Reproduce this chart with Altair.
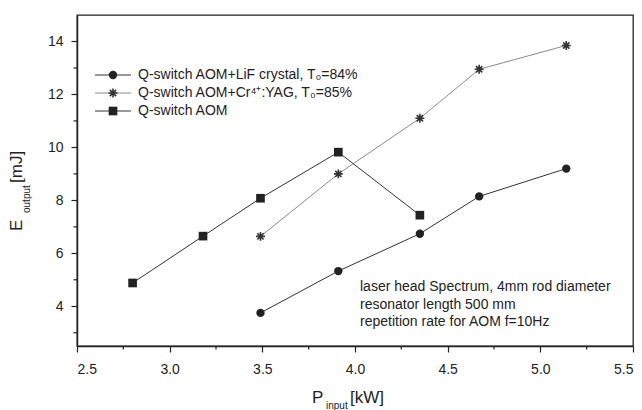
import altair as alt
import pandas as pd

# ---- data ----
series_names = [
    "Q-switch AOM+LiF crystal, T\u2080=84%",
    "Q-switch AOM+Cr\u2074\u207a:YAG, T\u2080=85%",
    "Q-switch AOM",
]
lif_x = [3.49, 3.91, 4.35, 4.67, 5.14]
lif_y = [3.75, 5.33, 6.74, 8.15, 9.20]
cr_x = [3.49, 3.91, 4.35, 4.67, 5.14]
cr_y = [6.64, 9.00, 11.10, 12.95, 13.85]
aom_x = [2.80, 3.18, 3.49, 3.91, 4.35]
aom_y = [4.88, 6.65, 8.08, 9.82, 7.44]

x_ticks = [2.5, 3.0, 3.5, 4.0, 4.5, 5.0, 5.5]
x_minor = [2.75, 3.25, 3.75, 4.25, 4.75, 5.25]
y_ticks = [4, 6, 8, 10, 12, 14]
y_minor = [3, 5, 7, 9, 11, 13]

note_lines = [
    "laser head Spectrum, 4mm rod diameter",
    "resonator length 500 mm",
    "repetition rate for AOM f=10Hz",
]

FONT = "Liberation Sans"
W, H = 556, 331

df = pd.concat([
    pd.DataFrame({"x": lif_x, "y": lif_y, "s": series_names[0]}),
    pd.DataFrame({"x": cr_x, "y": cr_y, "s": series_names[1]}),
    pd.DataFrame({"x": aom_x, "y": aom_y, "s": series_names[2]}),
])

xs = alt.Scale(domain=[2.5, 5.5], nice=False, zero=False)
ys = alt.Scale(domain=[2.5, 15], nice=False, zero=False)

X = alt.X("x:Q", scale=xs, axis=alt.Axis(values=x_ticks, format=".1f", title=None,
                                         grid=False, tickSize=6, labelPadding=10))
Y = alt.Y("y:Q", scale=ys, axis=alt.Axis(values=y_ticks, format="d", title=None,
                                         grid=False, tickSize=6, labelPadding=8))

line_colors = ["#333333", "#8a8a8a", "#333333"]
lines = alt.Chart(df).mark_line(strokeWidth=1).encode(
    x=X, y=Y, detail="s:N",
    color=alt.Color("s:N", scale=alt.Scale(domain=series_names, range=line_colors), legend=None),
)

STAR = "M-1,0L1,0M0,-1L0,1M-0.7,-0.7L0.7,0.7M-0.7,0.7L0.7,-0.7"

circ = alt.Chart(df[df.s == series_names[0]]).mark_point(
    shape="circle", filled=True, size=70, color="#222222", opacity=1).encode(x="x:Q", y="y:Q")
star = alt.Chart(df[df.s == series_names[1]]).mark_point(
    shape=STAR, filled=False, size=80, strokeWidth=1.6, color="#333333", opacity=1).encode(x="x:Q", y="y:Q")
sq = alt.Chart(df[df.s == series_names[2]]).mark_point(
    shape="square", filled=True, size=75, color="#222222", opacity=1).encode(x="x:Q", y="y:Q")

# minor ticks
xm = alt.Chart(pd.DataFrame({"x": x_minor})).mark_rule(color="#222222", strokeWidth=1.2).encode(
    x="x:Q", y=alt.value(H), y2=alt.value(H + 3.5))
ym = alt.Chart(pd.DataFrame({"y": y_minor})).mark_rule(color="#222222", strokeWidth=1.2).encode(
    y="y:Q", x=alt.value(-3.5), x2=alt.value(0))

one = pd.DataFrame({"a": [0]})

# legend (manual, line-marker-line symbols)
leg_layers = []
leg_y = [60, 78, 96]
shapes = [("circle", True, 70, 1), (STAR, False, 80, 1.6), ("square", True, 75, 1)]
for i, name in enumerate(series_names):
    yy = leg_y[i]
    leg_layers.append(alt.Chart(one).mark_rule(color=line_colors[i], strokeWidth=1).encode(
        x=alt.value(18), x2=alt.value(54), y=alt.value(yy)))
    shp, fill, size, sw = shapes[i]
    leg_layers.append(alt.Chart(one).mark_point(shape=shp, filled=fill, size=size, strokeWidth=sw,
                                                color="#222222" if fill else "#333333", opacity=1).encode(
        x=alt.value(36), y=alt.value(yy)))
    leg_layers.append(alt.Chart(one).mark_text(text=name, font=FONT, fontSize=14, align="left",
                                               baseline="middle", color="#222222").encode(
        x=alt.value(61), y=alt.value(yy)))

# annotation
note_layers = []
for i, t in enumerate(note_lines):
    note_layers.append(alt.Chart(one).mark_text(text=t, font=FONT, fontSize=14, align="left",
                                                baseline="middle", color="#222222").encode(
        x=alt.value(283), y=alt.value(272 + 17.5 * i)))

# axis titles with subscripts
def txt(t, x, y, size, angle=0):
    kw = dict(text=t, font=FONT, fontSize=size, align="left", baseline="alphabetic", color="#222222")
    if angle:
        kw["angle"] = angle
    return alt.Chart(one).mark_text(**kw).encode(x=alt.value(x), y=alt.value(y))

titles = [
    txt("P", 312 - 77, 403 - 15, 17),
    txt("input", 326 - 77, 409 - 15, 10),
    txt("[kW]", 350 - 77, 403 - 15, 17),
    txt("E", 22 - 77, 231 - 15, 17, 270),
    txt("output", 30 - 77, 213 - 15, 10, 270),
    txt("[mJ]", 22 - 77, 183 - 15, 17, 270),
]

chart = alt.layer(lines, circ, star, sq, xm, ym, *leg_layers, *note_layers, *titles).properties(
    width=W, height=H,
    autosize=alt.AutoSizeParams(type="none"),
    padding={"left": 77, "top": 15, "right": 9, "bottom": 64},
    background="white",
).configure_view(
    stroke="#222222", strokeWidth=1.3
).configure_axis(
    labelFont=FONT, labelFontSize=14, labelColor="#222222",
    domainColor="#222222", domainWidth=1.5, tickColor="#222222", tickWidth=1.2,
)

chart.save("out.html", embed_options={"renderer": "svg", "actions": False})
